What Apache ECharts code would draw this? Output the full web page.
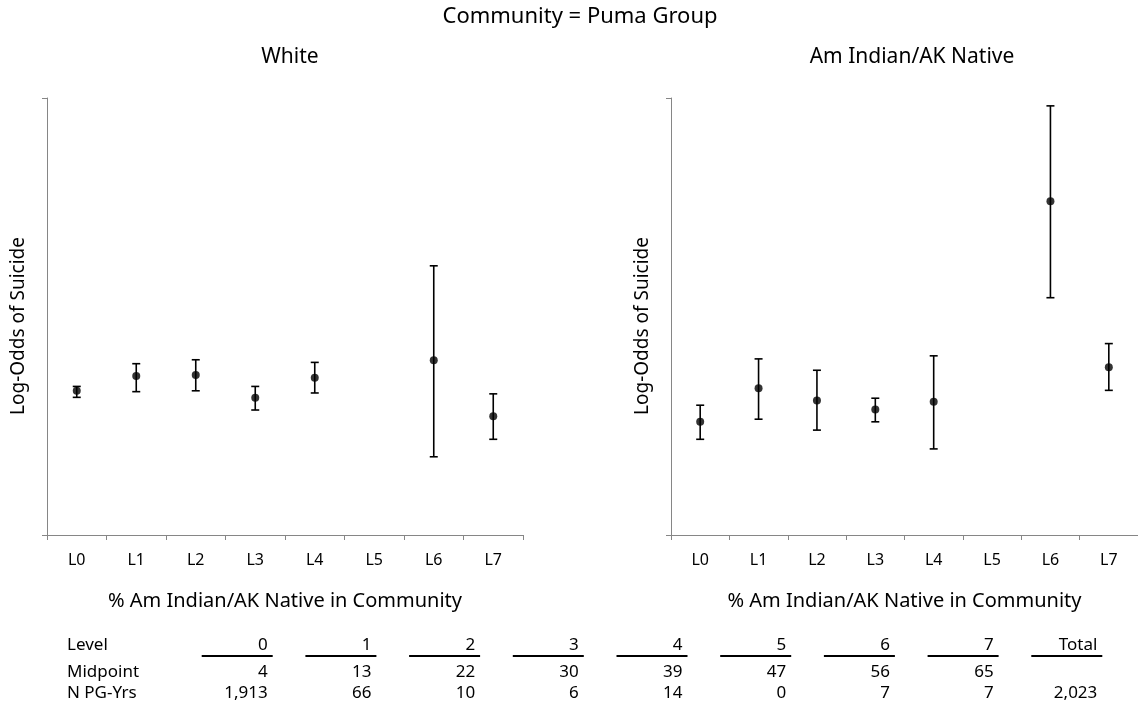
<!DOCTYPE html>
<html>
<head>
<meta charset="utf-8">
<title>Log-Odds of Suicide by Community</title>
<script src="https://cdn.jsdelivr.net/npm/echarts@6/dist/echarts.min.js"></script>
<style>
    html, body { margin: 0; padding: 0; background: #fff; }
    #chart { width: 1138px; height: 713px; }
</style>
</head>
<body>
<div id="chart"></div>
<script>
/* 自治体別 自殺のログオッズ */

var levels = ['L0', 'L1', 'L2', 'L3', 'L4', 'L5', 'L6', 'L7'];

// White
var whiteMean = [33.0, 36.4, 36.6, 31.4, 36.0, null, 40.0, 27.2];
var whiteLow  = [31.5, 32.8, 33.0, 28.6, 32.5, null, 17.9, 21.9];
var whiteHigh = [34.0, 39.2, 40.1, 34.0, 39.5, null, 61.6, 32.3];

// Am Indian/AK Native
var aianMean = [25.9, 33.6, 30.8, 28.7, 30.5, null, 76.4, 38.4];
var aianLow  = [21.9, 26.5, 24.0, 25.9, 19.7, null, 54.3, 33.1];
var aianHigh = [29.7, 40.3, 37.7, 31.3, 41.0, null, 98.2, 43.8];

// table below the charts
var tableLevel = ['0', '1', '2', '3', '4', '5', '6', '7', 'Total'];
var tableMidpoint = ['4', '13', '22', '30', '39', '47', '56', '65', ''];
var tableNPgYrs = ['1,913', '66', '10', '6', '14', '0', '7', '7', '2,023'];

var FONT = 'Noto Sans';
var AXIS_COLOR = '#868686';

function pointData(mean) {
    var out = [];
    for (var i = 0; i < mean.length; i++) {
        if (mean[i] == null) {
            continue;
        }
        out.push([i, mean[i]]);
    }
    return out;
}

function barData(low, high) {
    var out = [];
    for (var i = 0; i < low.length; i++) {
        if (low[i] == null) {
            continue;
        }
        out.push([i, low[i], high[i]]);
    }
    return out;
}

function renderErrorBar(params, api) {
    var x = api.value(0);
    var lo = api.coord([x, api.value(1)]);
    var hi = api.coord([x, api.value(2)]);
    var cap = 4;
    var style = { stroke: '#000', lineWidth: 1.6 };

    return {
        type: 'group',
        children: [
            { type: 'line', shape: { x1: lo[0], y1: lo[1], x2: hi[0], y2: hi[1] }, style: style },
            { type: 'line', shape: { x1: lo[0] - cap, y1: lo[1], x2: lo[0] + cap, y2: lo[1] }, style: style },
            { type: 'line', shape: { x1: hi[0] - cap, y1: hi[1], x2: hi[0] + cap, y2: hi[1] }, style: style }
        ]
    };
}

function makeXAxis(gridIndex) {
    return {
        type: 'category',
        gridIndex: gridIndex,
        data: levels,
        boundaryGap: true,
        name: '% Am Indian/AK Native in Community',
        nameLocation: 'middle',
        nameGap: 56,
        nameTextStyle: { color: '#000', fontFamily: FONT, fontSize: 20 },
        axisLine: { lineStyle: { color: AXIS_COLOR, width: 1 } },
        axisTick: { show: true, length: 5, lineStyle: { color: AXIS_COLOR } },
        axisLabel: { color: '#000', fontFamily: FONT, fontSize: 16, margin: 17 },
        splitLine: { show: false }
    };
}

function makeYAxis(gridIndex) {
    return {
        type: 'value',
        gridIndex: gridIndex,
        min: 0,
        max: 100,
        interval: 100,
        axisLine: { show: true, lineStyle: { color: AXIS_COLOR, width: 1 } },
        axisTick: { show: true, length: 5, lineStyle: { color: AXIS_COLOR } },
        axisLabel: { show: false },
        splitLine: { show: false }
    };
}

function tableGraphics() {
    var items = [];
    var rows = [
        { name: 'Level', values: tableLevel, y: 645 },
        { name: 'Midpoint', values: tableMidpoint, y: 672 },
        { name: 'N PG-Yrs', values: tableNPgYrs, y: 693 }
    ];
    var colStart = 201.7;
    var colStep = 103.7;
    var colWidth = 71;
    var textStyle = { fill: '#000', font: '17px "' + FONT + '"', textVerticalAlign: 'middle' };

    for (var r = 0; r < rows.length; r++) {
        items.push({
            type: 'text',
            left: 67,
            style: $.extend({}, textStyle, { text: rows[r].name, x: 67, y: rows[r].y })
        });
        for (var c = 0; c < rows[r].values.length; c++) {
            items.push({
                type: 'text',
                style: $.extend({}, textStyle, {
                    text: rows[r].values[c],
                    x: colStart + colStep * c + colWidth - 5,
                    y: rows[r].y,
                    textAlign: 'right'
                })
            });
        }
    }

    // underline under the Level row
    for (var k = 0; k < tableLevel.length; k++) {
        items.push({
            type: 'line',
            shape: { x1: colStart + colStep * k, y1: 656, x2: colStart + colStep * k + colWidth, y2: 656 },
            style: { stroke: '#000', lineWidth: 2 }
        });
    }
    return items;
}

// tiny stand-in for jquery's extend
var $ = {
    extend: function (target) {
        for (var i = 1; i < arguments.length; i++) {
            for (var key in arguments[i]) {
                target[key] = arguments[i][key];
            }
        }
        return target;
    }
};

function yName(x, text) {
    return {
        type: 'text',
        x: x,
        y: 326,
        rotation: Math.PI / 2,
        style: {
            text: text,
            fill: '#000',
            font: '19px "' + FONT + '"',
            textAlign: 'center',
            textVerticalAlign: 'middle'
        }
    };
}

var chart = echarts.init(document.getElementById('chart'));

var option = {
    backgroundColor: '#fff',
    animation: false,
    title: [
        {
            text: 'Community = Puma Group',
            left: 580, top: 6, padding: 0, textAlign: 'center',
            textStyle: { color: '#000', fontFamily: FONT, fontSize: 22, fontWeight: 'normal' }
        },
        {
            text: 'White',
            left: 290, top: 47, padding: 0, textAlign: 'center',
            textStyle: { color: '#000', fontFamily: FONT, fontSize: 21, fontWeight: 'normal' }
        },
        {
            text: 'Am Indian/AK Native',
            left: 912, top: 47, padding: 0, textAlign: 'center',
            textStyle: { color: '#000', fontFamily: FONT, fontSize: 21, fontWeight: 'normal' }
        }
    ],
    grid: [
        { left: 47, top: 98, width: 476, height: 437 },
        { left: 671, top: 98, width: 476, height: 437 }
    ],
    xAxis: [makeXAxis(0), makeXAxis(1)],
    yAxis: [makeYAxis(0), makeYAxis(1)],
    series: [
        {
            name: 'White CI',
            type: 'custom',
            xAxisIndex: 0, yAxisIndex: 0,
            renderItem: renderErrorBar,
            data: barData(whiteLow, whiteHigh),
            z: 2
        },
        {
            name: 'White',
            type: 'scatter',
            xAxisIndex: 0, yAxisIndex: 0,
            symbol: 'circle', symbolSize: 8,
            itemStyle: { color: '#000' },
            data: pointData(whiteMean),
            z: 3
        },
        {
            name: 'Am Indian/AK Native CI',
            type: 'custom',
            xAxisIndex: 1, yAxisIndex: 1,
            renderItem: renderErrorBar,
            data: barData(aianLow, aianHigh),
            z: 2
        },
        {
            name: 'Am Indian/AK Native',
            type: 'scatter',
            xAxisIndex: 1, yAxisIndex: 1,
            symbol: 'circle', symbolSize: 8,
            itemStyle: { color: '#000' },
            data: pointData(aianMean),
            z: 3
        }
    ],
    graphic: [yName(19, 'Log-Odds of Suicide'), yName(643, 'Log-Odds of Suicide')].concat(tableGraphics())
};

chart.setOption(option);
</script>
</body>
</html>
